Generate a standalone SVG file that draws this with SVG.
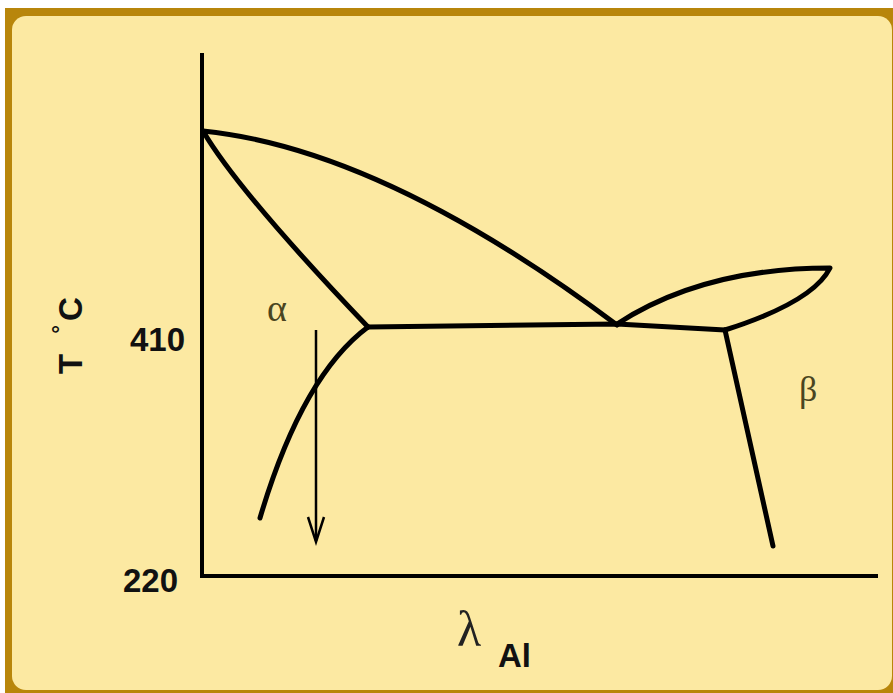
<svg xmlns="http://www.w3.org/2000/svg" width="893" height="693" viewBox="0 0 893 693">
<defs>
<style>
.ax{fill:none;stroke:#000;stroke-width:4;stroke-linecap:butt}
.cv{fill:none;stroke:#000;stroke-width:5;stroke-linecap:round;stroke-linejoin:round}
.num{font-family:"Liberation Sans",Arial,sans-serif;font-weight:bold;font-size:33px;fill:#111}
.gr{font-family:"Liberation Serif","Times New Roman",serif;fill:#4a4520}
</style>
</defs>
<rect x="0" y="0" width="893" height="693" fill="#fff"/>
<rect x="5" y="8" width="900" height="700" fill="#B8860B"/>
<rect x="12" y="16" width="880" height="674" rx="14" fill="#FCE9A2"/>
<g id="axes">
<path class="ax" d="M202 53 V576 H878"/>
</g>
<g id="curves">
<path class="cv" d="M203 131 Q382 149 617 325"/>
<path class="cv" d="M203 131 Q238 191 368 327"/>
<path class="cv" d="M368 327 L617 324 L725 330"/>
<path class="cv" d="M617 324 Q703 268 830 268 Q813 302 725 330"/>
<path class="cv" d="M725 330 L773 546"/>
<path class="cv" d="M368 327 Q302 376 260 518"/>
</g>
<g id="arrow">
<path d="M316 330 V541" fill="none" stroke="#000" stroke-width="2.5"/>
<path d="M308 517 L316 542 L324 517" fill="none" stroke="#000" stroke-width="2.5" stroke-linejoin="miter"/>
</g>
<g id="labels">
<text class="num" x="130" y="351">410</text>
<text class="num" x="123" y="592">220</text>
<text class="num" transform="translate(82,374) rotate(-90)">T<tspan font-size="22" dx="20" dy="-14">°</tspan><tspan dx="4" dy="14">C</tspan></text>
<text class="gr" x="267" y="321" font-size="38">α</text>
<text class="gr" x="799" y="401" font-size="36">β</text>
<text x="457" y="646" font-family="Liberation Serif,'Times New Roman',serif" font-size="50" fill="#222">λ</text>
<text class="num" x="498" y="667" font-size="34">Al</text>
</g>
</svg>
